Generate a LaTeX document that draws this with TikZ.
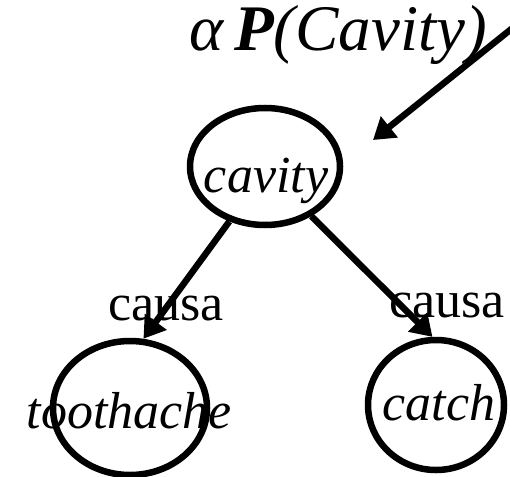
\documentclass[tikz,border=0pt]{standalone}
\usepackage{fontspec}
\setmainfont{Liberation Serif}
\usetikzlibrary{shapes.geometric,arrows.meta}
\tikzset{
  var/.style={ellipse, draw, line width=6.5pt, inner sep=0pt},
  lbl/.style={inner sep=0pt, anchor=base, font=\fontsize{52}{60}\selectfont},
  link/.style={line width=6.5pt, -{Triangle[length=21pt,width=26pt]}},
}
\begin{document}
\begin{tikzpicture}[x=1pt,y=-1pt]
  \clip (0,0) rectangle (510,476);
  \fill[white] (0,0) rectangle (510,476);

  % variables of the network
  \node[var, minimum width=150pt, minimum height=117pt] (cavity) at (265,166.5) {};
  \node[var, minimum width=154pt, minimum height=134pt] (toothache) at (130,408) {};
  \node[var, minimum width=136pt, minimum height=130pt] (catch) at (436,405) {};

  \node[lbl] (tcavity) at (266,192) {\itshape cavity};
  \node[lbl] (ttoothache) at (129.5,428) {\itshape toothache};
  \node[lbl] (tcatch) at (439,420) {\itshape catch};

  % prior on the root
  \node[inner sep=0pt, anchor=base west, font=\fontsize{65}{72}\selectfont]
    (prior) at (189,51) {\itshape α\,\textbf{P}(Cavity)};
  \coordinate (priorsrc) at (535,10);
  \coordinate (priortip) at (373,140);
  \draw[link] (priorsrc) -- (priortip);

  % causal links
  \draw[link] (cavity.237) -- (toothache.79);
  \draw[link] (cavity.313.5) -- (catch.93);
  \node[lbl] (c1) at (166,320) {causa};
  \node[lbl] (c2) at (447,317) {causa};
\end{tikzpicture}
\end{document}
